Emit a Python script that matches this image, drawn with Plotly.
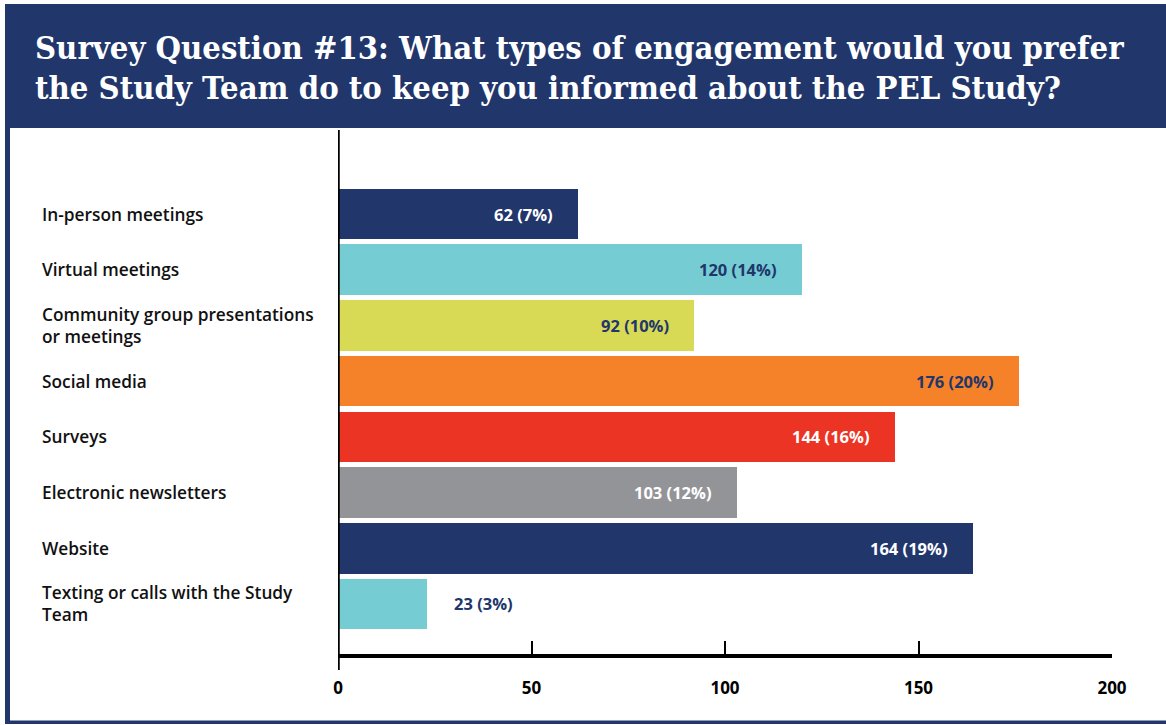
import plotly.graph_objects as go

W, H = 1166, 725

categories = ["In-person meetings", "Virtual meetings", "Community group presentations<br>or meetings",
              "Social media", "Surveys", "Electronic newsletters", "Website",
              "Texting or calls with the Study<br>Team"]
values = [62, 120, 92, 176, 144, 103, 164, 23]
labels = ["62 (7%)", "120 (14%)", "92 (10%)", "176 (20%)", "144 (16%)", "103 (12%)", "164 (19%)", "23 (3%)"]
bar_colors = ["#21366B", "#75CDD3", "#D8DA56", "#F58229", "#EC3425", "#939497", "#21366B", "#75CDD3"]
label_colors = ["#FFFFFF", "#21366B", "#21366B", "#21366B", "#FFFFFF", "#FFFFFF", "#FFFFFF", "#21366B"]
label_inside = [True, True, True, True, True, True, True, False]
x_ticks = [0, 50, 100, 150, 200]
title_lines = ["Survey Question #13: What types of engagement would you prefer",
               "the Study Team do to keep you informed about the PEL Study?"]

NAVY = "#21366B"

def px(x):
    return x / W

def py(y):
    return 1 - y / H

idx = list(range(len(categories)))

fig = go.Figure()
fig.add_trace(go.Bar(
    x=values, y=idx, orientation="h", width=0.91,
    marker=dict(color=bar_colors, line=dict(width=0)),
    hoverinfo="skip", showlegend=False,
))

annotations = []
for i, (v, lab, col, ins) in enumerate(zip(values, labels, label_colors, label_inside)):
    annotations.append(dict(
        x=v, y=i, xref="x", yref="y", text=lab, showarrow=False,
        xanchor="right" if ins else "left", xshift=-23 if ins else 25,
        font=dict(family="Open Sans", size=16.5, color=col, weight=700),
    ))
    annotations.append(dict(
        x=px(40), y=i, xref="paper", yref="y", text=categories[i], showarrow=False,
        xanchor="left", yanchor="middle", align="left",
        font=dict(family="Open Sans", size=17.3, color="#111111", weight=600),
    ))

for k, line in enumerate(title_lines):
    annotations.append(dict(
        x=px(33), y=py(47 + 40 * k), xref="paper", yref="paper", text=line,
        showarrow=False, xanchor="left", yanchor="middle",
        font=dict(family="DejaVu Serif Condensed, DejaVu Serif", size=32.5, color="#FFFFFF", weight=700),
    ))

shapes = [
    # title band
    dict(type="rect", xref="paper", yref="paper", x0=px(5), x1=1.01, y0=py(128), y1=py(4),
         fillcolor=NAVY, line=dict(width=0), layer="below"),
    # frame left
    dict(type="rect", xref="paper", yref="paper", x0=px(5), x1=px(10), y0=py(724), y1=py(128),
         fillcolor=NAVY, line=dict(width=0), layer="below"),
    # frame bottom
    dict(type="rect", xref="paper", yref="paper", x0=px(5), x1=1.01, y0=py(724), y1=py(720.5),
         fillcolor=NAVY, line=dict(width=0), layer="below"),
    # vertical axis line
    dict(type="line", xref="x", yref="paper", x0=0, x1=0, y0=py(670), y1=py(130),
         line=dict(color="#000000", width=3.5)),
]

fig.update_layout(
    width=W, height=H,
    autosize=False,
    margin=dict(l=0, r=0, t=0, b=0, autoexpand=False),
    paper_bgcolor="#FFFFFF", plot_bgcolor="rgba(0,0,0,0)",
    bargap=0,
    xaxis=dict(
        domain=[px(338), px(1112)], range=[0, 200], tickvals=x_ticks,
        ticktext=[str(t) for t in x_ticks],
        showgrid=False, zeroline=False, showline=True, linecolor="#000000", linewidth=3.5,
        ticks="inside", ticklen=13, tickwidth=2, tickcolor="#000000",
        ticklabelstandoff=16, automargin=False,
        tickfont=dict(family="Open Sans", size=17, color="#000000", weight=700),
        fixedrange=True,
    ),
    yaxis=dict(
        domain=[py(654), py(130)], range=[7.898, -1.508], automargin=False,
        showgrid=False, zeroline=False, showline=False, showticklabels=False, ticks="",
        fixedrange=True,
    ),
    annotations=annotations,
    shapes=shapes,
)

fig.write_html(
    "out.html",
    config={"responsive": False, "displayModeBar": False},
    post_script="document.body.style.margin='0';document.body.style.overflow='hidden';",
)
